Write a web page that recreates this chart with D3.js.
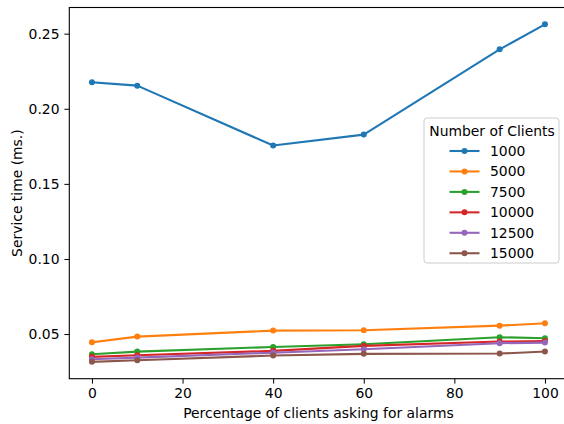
<!DOCTYPE html>
<html>
<head>
<meta charset="utf-8">
<script src="https://cdn.jsdelivr.net/npm/d3@7"></script>
<style>
  body { margin: 0; background: #fff; }
  svg { display: block; }
</style>
</head>
<body>
<div id="chart"></div>
<script>
const percentages = [0, 10, 40, 60, 90, 100];
const clientCounts = ["1000", "5000", "7500", "10000", "12500", "15000"];
const s1000 = [0.2176, 0.2154, 0.1755, 0.1828, 0.2396, 0.2562];
const s5000 = [0.0445, 0.0483, 0.0523, 0.0525, 0.0556, 0.0572];
const s7500 = [0.0366, 0.0383, 0.0414, 0.0432, 0.0479, 0.0472];
const s10000 = [0.0348, 0.0359, 0.0388, 0.0421, 0.0450, 0.0454];
const s12500 = [0.0332, 0.0343, 0.0376, 0.0399, 0.0439, 0.0443];
const s15000 = [0.0315, 0.0326, 0.0357, 0.0368, 0.0370, 0.0384];
const xTicks = [0, 20, 40, 60, 80, 100];
const yTicks = [0.05, 0.10, 0.15, 0.20, 0.25];

const allSeries = [s1000, s5000, s7500, s10000, s12500, s15000];
const colors = ["#1f77b4", "#ff7f0e", "#2ca02c", "#d62728", "#9467bd", "#8c564b"];

const series = clientCounts.map((name, i) => ({
    name: name,
    color: colors[i],
    values: percentages.map((p, j) => ({ x: p, y: allSeries[i][j] }))
}));

const width = 564, height = 424;
const margin = { left: 69.3, right: 567.6, top: 7.5, bottom: 378.7 };
const fontSize = 13.9;

const svg = d3.select("#chart")
    .append("svg")
    .attr("width", width)
    .attr("height", height)
    .style("font-family", "'DejaVu Sans', sans-serif");

// matplotlib style 5% margins
const xMin = d3.min(percentages), xMax = d3.max(percentages);
const allY = allSeries.flat();
const yMin = d3.min(allY), yMax = d3.max(allY);
const xPad = (xMax - xMin) * 0.05, yPad = (yMax - yMin) * 0.05;

const x = d3.scaleLinear().domain([xMin - xPad, xMax + xPad]).range([margin.left, margin.right]);
const y = d3.scaleLinear().domain([yMin - yPad, yMax + yPad]).range([margin.bottom, margin.top]);

const xAxis = svg.append("g")
    .attr("transform", `translate(0,${margin.bottom})`)
    .call(d3.axisBottom(x).tickValues(xTicks).tickFormat(d3.format("d")).tickSizeOuter(0).tickSize(4.9).tickPadding(4.9));

const yAxis = svg.append("g")
    .attr("transform", `translate(${margin.left},0)`)
    .call(d3.axisLeft(y).tickValues(yTicks).tickFormat(d3.format(".2f")).tickSizeOuter(0).tickSize(4.9).tickPadding(4.9));

[xAxis, yAxis].forEach(a => {
    a.select(".domain").remove();
    a.selectAll("line").attr("stroke", "#000").attr("stroke-width", 1);
    a.selectAll("text").attr("fill", "#000").style("font-size", fontSize + "px")
        .style("font-family", "'DejaVu Sans', sans-serif");
});

const lineGen = d3.line().x(d => x(d.x)).y(d => y(d.y));

const plot = svg.append("g");
series.forEach(s => {
    plot.append("path")
        .datum(s.values)
        .attr("d", lineGen)
        .attr("fill", "none")
        .attr("stroke", s.color)
        .attr("stroke-width", 2.08)
        .attr("stroke-linejoin", "round")
        .attr("stroke-linecap", "square");
    plot.selectAll(null)
        .data(s.values)
        .enter()
        .append("circle")
        .attr("cx", d => x(d.x))
        .attr("cy", d => y(d.y))
        .attr("r", 3)
        .attr("fill", s.color);
});

// frame
svg.append("rect")
    .attr("x", margin.left)
    .attr("y", margin.top)
    .attr("width", margin.right - margin.left)
    .attr("height", margin.bottom - margin.top)
    .attr("fill", "none")
    .attr("stroke", "#000")
    .attr("stroke-width", 1.1);

// axis labels
svg.append("text")
    .attr("x", (margin.left + margin.right) / 2)
    .attr("y", 418)
    .attr("text-anchor", "middle")
    .style("font-size", fontSize + "px")
    .text("Percentage of clients asking for alarms");

svg.append("text")
    .attr("transform", `translate(22,${(margin.top + margin.bottom) / 2}) rotate(-90)`)
    .attr("text-anchor", "middle")
    .style("font-size", fontSize + "px")
    .text("Service time (ms.)");

// legend
const legend = svg.append("g").attr("transform", "translate(424,118)");
legend.append("rect")
    .attr("width", 135)
    .attr("height", 145)
    .attr("rx", 3)
    .attr("fill", "#fff")
    .attr("fill-opacity", 0.8)
    .attr("stroke", "#cccccc")
    .attr("stroke-width", 1);

legend.append("text")
    .attr("x", 68)
    .attr("y", 17.5)
    .attr("text-anchor", "middle")
    .style("font-size", fontSize + "px")
    .text("Number of Clients");

const items = legend.selectAll("g.item")
    .data(series)
    .enter()
    .append("g")
    .attr("class", "item")
    .attr("transform", (d, i) => `translate(0,${33 + i * 20.45})`);

items.append("line")
    .attr("x1", 25.5)
    .attr("x2", 55.5)
    .attr("stroke", d => d.color)
    .attr("stroke-width", 2.08);

items.append("circle")
    .attr("cx", 40.5)
    .attr("r", 3)
    .attr("fill", d => d.color);

items.append("text")
    .attr("x", 66)
    .attr("y", 5)
    .style("font-size", fontSize + "px")
    .text(d => d.name);
</script>
</body>
</html>
